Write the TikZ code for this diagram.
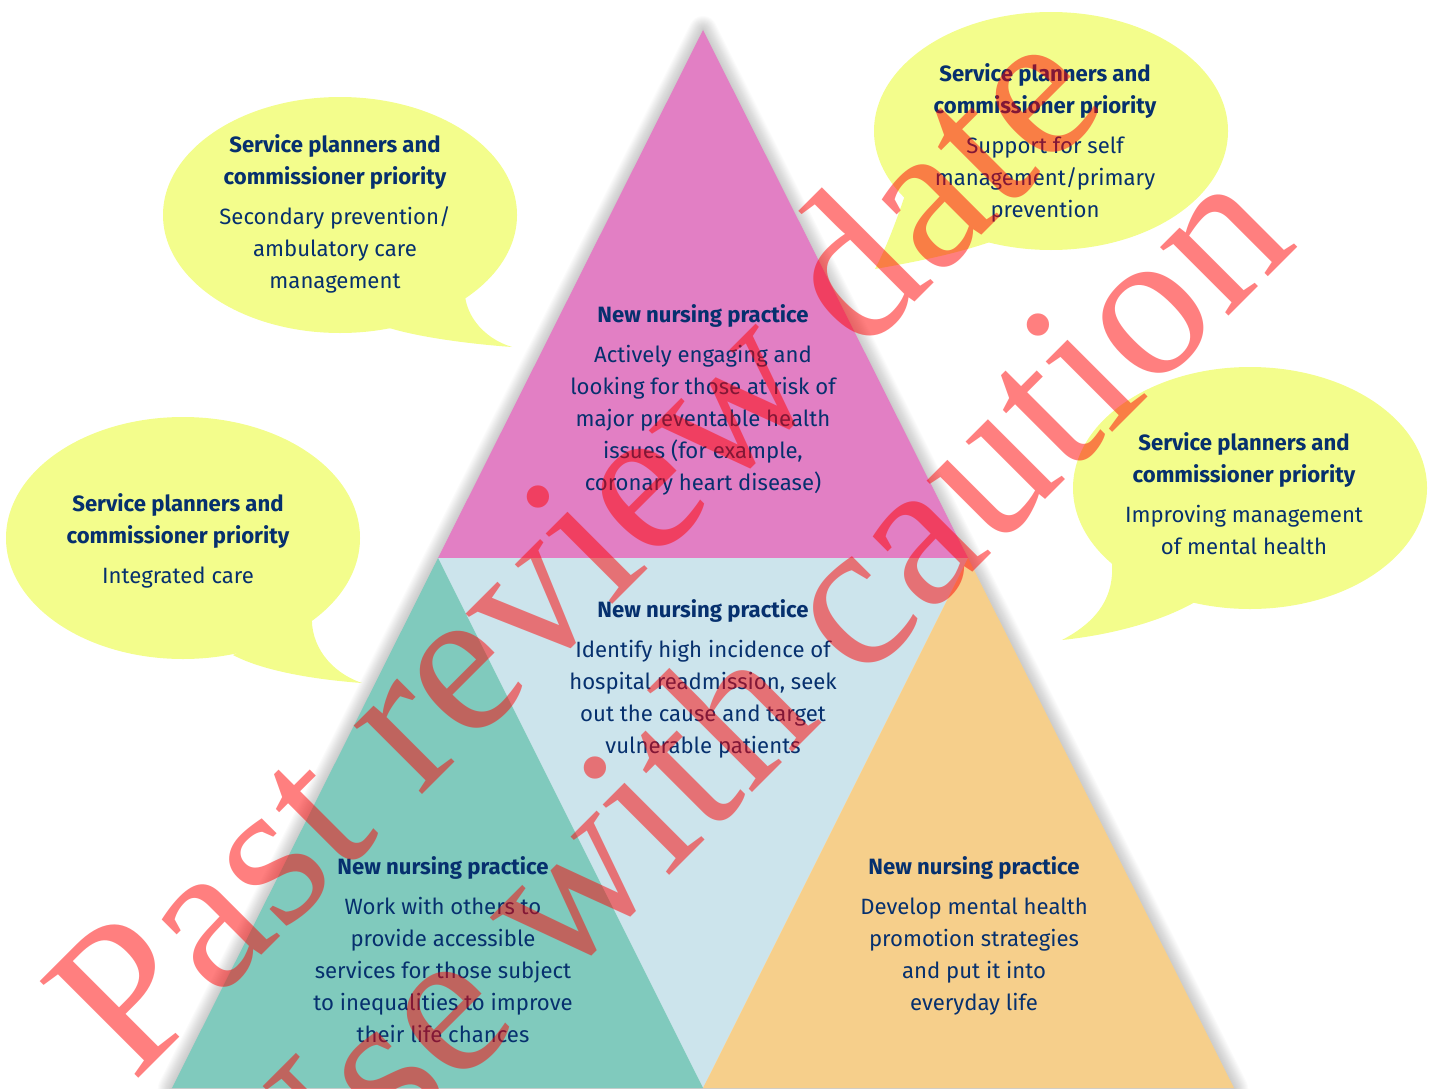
\documentclass[tikz,border=0pt]{standalone}
\usepackage{fontspec}
\setmainfont{Fira Sans}
\newfontfamily\stampfont{Liberation Serif}

\definecolor{navy}{RGB}{6,48,110}
\definecolor{pinkzone}{RGB}{226,127,196}
\definecolor{bluezone}{RGB}{204,228,236}
\definecolor{tealzone}{RGB}{128,202,189}
\definecolor{orangezone}{RGB}{246,207,139}
\definecolor{bubblefill}{RGB}{243,253,140}

\tikzset{
  blurb/.style={text=navy, align=center, anchor=base, inner sep=0pt,
    font=\fontsize{12.6}{18.2}\selectfont},
  bubble/.style={fill=bubblefill},
  stamp/.style={text=red, text opacity=0.5, rotate=45, inner sep=0pt,
    font=\stampfont\fontsize{120}{150}\selectfont},
}

\begin{document}
\begin{tikzpicture}[x=0.02cm, y=-0.02cm]
  \useasboundingbox (0,0) rectangle (1435,1088);
  \clip (0,0) rectangle (1435,1088);

  %Corners
  \coordinate (top) at (703,30);
  \coordinate (ml)  at (438,558);
  \coordinate (mr)  at (968,558);
  \coordinate (bl)  at (172,1088);
  \coordinate (bm)  at (703,1088);
  \coordinate (br)  at (1234,1088);

  %Bubbles
  \fill[bubble] (340,215) ellipse [x radius=177, y radius=118];
  \fill[bubble] (465,285) .. controls (462,312) and (482,338) .. (512,347)
    .. controls (470,344) and (415,337) .. (383,326) -- cycle;
  \fill[bubble] (183,538) ellipse [x radius=177, y radius=121];
  \fill[bubble] (312,615) .. controls (310,645) and (330,672) .. (362,683)
    .. controls (320,680) and (265,672) .. (233,655) -- cycle;
  \fill[bubble] (1051,131) ellipse [x radius=177, y radius=119];
  \fill[bubble] (905,195) .. controls (895,225) and (885,250) .. (875,269)
    .. controls (915,262) and (955,254) .. (990,242) -- cycle;
  \fill[bubble] (1250,488) ellipse [x radius=177, y radius=121];
  \fill[bubble] (1195,602) .. controls (1160,622) and (1110,635) .. (1062,640)
    .. controls (1100,620) and (1114,595) .. (1112,563) -- cycle;

  %Shadow
  \foreach \d in {1,...,14}
    \draw[line width=\d*0.4mm, black, opacity=0.015, line join=round]
      (top) -- (bl) -- (br) -- cycle;

  %Zones
  \fill[pinkzone]   (top) -- (ml) -- (mr) -- cycle;
  \fill[bluezone]   (ml) -- (mr) -- (bm) -- cycle;
  \fill[tealzone]   (ml) -- (bl) -- (bm) -- cycle;
  \fill[orangezone] (mr) -- (bm) -- (br) -- cycle;

  %Priorities (placed by the baseline of the last line)
  \node[blurb] at (335,288) (secondary) {\textbf{Service planners and}\\
    \textbf{commissioner priority}\\[0.16cm]
    Secondary prevention/\\ambulatory care\\management};
  \node[blurb] at (178,583) (integrated) {\textbf{Service planners and}\\
    \textbf{commissioner priority}\\[0.16cm]
    Integrated care};
  \node[blurb] at (1045,217) (selfcare) {\textbf{Service planners and}\\
    \textbf{commissioner priority}\\[0.16cm]
    Support for self\\management/primary\\prevention};
  \node[blurb] at (1244,554) (mental) {\textbf{Service planners and}\\
    \textbf{commissioner priority}\\[0.16cm]
    Improving management\\of mental health};

  %Practice
  \node[blurb] at (703,490) (risk) {\textbf{New nursing practice}\\[0.16cm]
    Actively engaging and\\looking for those at risk of\\major preventable health\\
    issues (for example,\\coronary heart disease)};
  \node[blurb] at (703,753) (readmit) {\textbf{New nursing practice}\\[0.16cm]
    Identify high incidence of\\hospital readmission, seek\\out the cause and target\\
    vulnerable patients};
  \node[blurb] at (443,1042) (access) {\textbf{New nursing practice}\\[0.16cm]
    Work with others to\\provide accessible\\services for those subject\\
    to inequalities to improve\\their life chances};
  \node[blurb] at (974,1010) (promote) {\textbf{New nursing practice}\\[0.16cm]
    Develop mental health\\promotion strategies\\and put it into\\everyday life};

  %Stamp
  \node[stamp, anchor=base west] at (133,1084) (pastdate) {Past review date};
  \node[stamp, anchor=base east] at (1300,245) (caution) {Use with caution};
\end{tikzpicture}
\end{document}
